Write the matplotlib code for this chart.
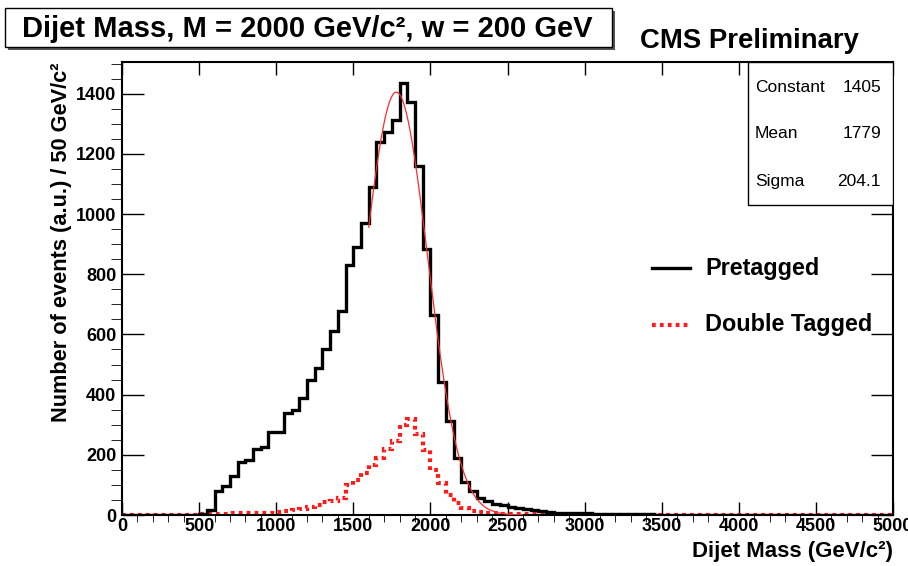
import numpy as np
import matplotlib
matplotlib.use("Agg")
import matplotlib.pyplot as plt
from matplotlib.patches import Rectangle
from matplotlib import font_manager as fm
from matplotlib.lines import Line2D

# ---------------- data ----------------
bin_edges_gev = np.arange(0, 5001, 50)

pretagged = [
    0, 0, 0, 0, 0, 0, 0, 0, 0, 1,            # 0-500
    3, 15, 80, 97, 130, 175, 183, 220, 225, 275,   # 500-1000
    275, 340, 349, 390, 450, 487, 550, 610, 677, 829,  # 1000-1500
    890, 970, 1089, 1239, 1272, 1313, 1434, 1371, 1161, 885,  # 1500-2000
    664, 442, 312, 190, 110, 80, 58, 45, 38, 32,   # 2000-2500
    26, 22, 20, 17, 12, 10, 8, 7, 6, 6,          # 2500-3000
    5, 4, 4, 3, 3, 3, 2, 2, 2, 1,                # 3000-3500
    1, 1, 1, 1, 1, 1, 0, 1, 0, 0,                # 3500-4000
    1, 0, 0, 0, 0, 0, 0, 0, 0, 0,                # 4000-4500
    0, 0, 0, 0, 0, 0, 0, 0, 0, 0,                # 4500-5000
]

double_tagged = [
    1, 1, 1, 1, 1, 1, 1, 1, 1, 1,                # 0-500
    2, 3, 4, 4, 5, 5, 6, 6, 7, 8,                # 500-1000
    10, 13, 16, 20, 27, 33, 42, 48, 55, 100,     # 1000-1500
    115, 140, 165, 190, 220, 245, 300, 318, 270, 215,  # 1500-2000
    150, 105, 66, 40, 22, 14, 9, 6, 5, 4,        # 2000-2500
    3, 3, 2, 2, 2, 2, 1, 1, 1, 1,                # 2500-3000
    1, 1, 1, 1, 1, 1, 1, 1, 1, 1,                # 3000-3500
    1, 1, 1, 1, 1, 1, 1, 1, 1, 1,                # 3500-4000
    1, 1, 1, 1, 1, 1, 1, 1, 1, 1,                # 4000-4500
    1, 1, 1, 1, 1, 1, 1, 1, 1, 1,                # 4500-5000
]

fit_constant = 1405
fit_mean = 1779
fit_sigma = 204.1
fit_range = (1600, 2600)

stats_labels = ["Constant", "Mean", "Sigma"]
stats_values = ["1405", "1779", "204.1"]
legend_labels = ["Pretagged", "Double Tagged"]
x_ticks = [0, 500, 1000, 1500, 2000, 2500, 3000, 3500, 4000, 4500, 5000]
y_ticks = [0, 200, 400, 600, 800, 1000, 1200, 1400]

# ---------------- fonts ----------------
names = {f.name for f in fm.fontManager.ttflist}
narrow = "Liberation Sans Narrow" if "Liberation Sans Narrow" in names else "Liberation Sans"
plain = "Liberation Sans"
plt.rcParams["font.family"] = [narrow, "DejaVu Sans"]

W, H = 908, 566
fig = plt.figure(figsize=(W / 100, H / 100), dpi=100)

def fx(px):
    return px / W

def fy(py):
    return 1 - py / H

ax_l, ax_r, ax_t, ax_b = 122, 893, 62, 515
ax = fig.add_axes([fx(ax_l), fy(ax_b), fx(ax_r) - fx(ax_l), fy(ax_t) - fy(ax_b)])

ax.stairs(double_tagged, bin_edges_gev, color="#ff1a1a", lw=3.0,
          linestyle=(0, (0.9, 1.0)), baseline=None, zorder=2)
ax.stairs(pretagged, bin_edges_gev, color="black", lw=2.4, baseline=None, zorder=3)

xf = np.linspace(fit_range[0], fit_range[1], 400)
yf = fit_constant * np.exp(-0.5 * ((xf - fit_mean) / fit_sigma) ** 2)
ax.plot(xf, yf, color="#ff2a2a", lw=0.9, zorder=4)

ax.set_xlim(0, 5000)
ax.set_ylim(0, 1505)
ax.set_xticks(x_ticks)
ax.set_yticks(y_ticks)
ax.set_xticks(np.arange(0, 5001, 100), minor=True)
ax.set_yticks(np.arange(0, 1501, 50), minor=True)
ax.set_xticklabels([str(v) for v in x_ticks], fontsize=13, fontweight="bold")
ax.set_yticklabels([str(v) for v in y_ticks], fontsize=13, fontweight="bold")
ax.tick_params(direction="in", top=True, right=True, width=1.0, colors="black")
ax.tick_params(axis="x", which="major", length=9.5, pad=2)
ax.tick_params(axis="x", which="minor", length=5)
ax.tick_params(axis="y", which="major", length=15.5, pad=4)
ax.tick_params(axis="y", which="minor", length=8)
for s in ax.spines.values():
    s.set_linewidth(1.5)

# axis titles
fig.text(fx(893), fy(551), "Dijet Mass (GeV/c²)", ha="right", va="center",
         fontsize=16, fontweight="bold")
fig.text(fx(62), fy(62), "Number of events (a.u.) / 50 GeV/c²", ha="center", va="top",
         rotation=90, fontsize=15.7, fontweight="bold")

# title box with shadow
fig.patches.append(Rectangle((fx(8), fy(50)), fx(612) - fx(5), fy(8) - fy(47),
                             transform=fig.transFigure, facecolor="#555555",
                             edgecolor="none", zorder=1))
fig.patches.append(Rectangle((fx(5), fy(47)), fx(612) - fx(5), fy(8) - fy(47),
                             transform=fig.transFigure, facecolor="white",
                             edgecolor="black", lw=1.0, zorder=2))
fig.text(fx(22), fy(29), "Dijet Mass, M = 2000 GeV/c², w = 200 GeV", ha="left",
         va="center", fontsize=21, fontweight="bold", zorder=3)

fig.text(fx(640), fy(41), "CMS Preliminary", ha="left", va="center",
         fontsize=19.8, fontweight="bold")

# stats box
ax.add_patch(Rectangle((fx(748), fy(205)), fx(893) - fx(748), fy(62) - fy(205),
                       transform=fig.transFigure, facecolor="white", edgecolor="black",
                       lw=1.0, zorder=5))
for i, (lab, val) in enumerate(zip(stats_labels, stats_values)):
    yy = 87 + 47 * i
    fig.text(fx(755), fy(yy), lab, ha="left", va="center", fontsize=12.5,
             family=[plain, "DejaVu Sans"], zorder=6)
    fig.text(fx(881), fy(yy), val, ha="right", va="center", fontsize=12.5,
             family=[plain, "DejaVu Sans"], zorder=6)

# legend
fig.add_artist(Line2D([fx(652), fx(690)], [fy(268), fy(268)], color="black", lw=2.4))
fig.add_artist(Line2D([fx(652), fx(690)], [fy(325), fy(325)], color="#ff1a1a", lw=3.0,
                      linestyle=(0, (0.9, 1.0))))
fig.text(fx(705), fy(268), legend_labels[0], ha="left", va="center", fontsize=16.8,
         fontweight="bold")
fig.text(fx(705), fy(325), legend_labels[1], ha="left", va="center", fontsize=16.8,
         fontweight="bold")

fig.savefig("out.png", dpi=100)
